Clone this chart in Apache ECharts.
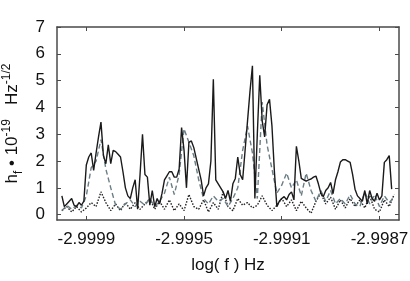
<!DOCTYPE html>
<html>
<head>
<meta charset="utf-8">
<script src="https://cdn.jsdelivr.net/npm/echarts@6/dist/echarts.min.js"></script>
<style>html,body{margin:0;padding:0;background:#fff;}#c{width:410px;height:281px;}</style>
</head>
<body>
<div id="c"></div>
<script>
// Frequency grid (log f, Hz) for the solid curve
const fineX = [
-3.00000,-2.99999,-2.99998,-2.99997,-2.99996,-2.99995,-2.99994,-2.99993,-2.99992,-2.99991,
-2.99990,-2.99989,-2.99988,-2.99987,-2.99986,-2.99985,-2.99984,-2.99983,-2.99982,-2.99981,
-2.99980,-2.99979,-2.99978,-2.99977,-2.99976,-2.99975,-2.99974,-2.99973,-2.99972,-2.99971,
-2.99970,-2.99969,-2.99968,-2.99967,-2.99966,-2.99965,-2.99964,-2.99963,-2.99962,-2.99961,
-2.99960,-2.99959,-2.99958,-2.99957,-2.99956,-2.99955,-2.99954,-2.99953,-2.99952,-2.99951,
-2.99950,-2.99949,-2.99948,-2.99947,-2.99946,-2.99945,-2.99944,-2.99943,-2.99942,-2.99941,
-2.99940,-2.99939,-2.99938,-2.99937,-2.99936,-2.99935,-2.99934,-2.99933,-2.99932,-2.99931,
-2.99930,-2.99929,-2.99928,-2.99927,-2.99926,-2.99925,-2.99924,-2.99923,-2.99922,-2.99921,
-2.99920,-2.99919,-2.99918,-2.99917,-2.99916,-2.99915,-2.99914,-2.99913,-2.99912,-2.99911,
-2.99910,-2.99909,-2.99908,-2.99907,-2.99906,-2.99905,-2.99904,-2.99903,-2.99902,-2.99901,
-2.99900,-2.99899,-2.99898,-2.99897,-2.99896,-2.99895,-2.99894,-2.99893,-2.99892,-2.99891,
-2.99890,-2.99889,-2.99888,-2.99887,-2.99886,-2.99885,-2.99884,-2.99883,-2.99882,-2.99881,
-2.99880,-2.99879,-2.99878,-2.99877,-2.99876,-2.99875,-2.99874,-2.99873,-2.99872,-2.99871,
-2.99870,-2.99869,-2.99868,-2.99867,-2.99866,-2.99865
];
// Solid curve values (h_f x 1e19)
const solidY = [
0.7,0.3,0.4,0.5,0.6,0.35,0.3,0.45,0.35,0.5,
1.85,2.15,2.3,1.65,2.3,2.9,3.45,2.2,1.9,2.6,
1.9,2.4,2.35,2.25,2.15,1.6,1.0,0.7,0.6,1.0,
1.3,0.2,1.5,3.0,1.5,1.4,0.35,0.9,0.3,0.6,
0.4,0.8,1.3,1.45,1.6,1.6,1.4,1.4,1.7,3.25,
2.4,1.0,2.7,2.75,2.5,2.1,1.7,1.3,0.7,1.0,
1.15,2.0,5.05,1.3,1.15,1.0,0.85,0.6,0.9,0.5,
1.15,1.35,2.15,1.5,1.3,2.4,3.5,4.6,5.55,0.6,
3.0,5.2,3.5,2.9,4.1,4.3,3.3,1.6,0.3,0.5,
0.6,0.67,0.55,0.75,0.85,0.55,2.55,2.0,1.35,1.3,
1.25,1.3,1.33,1.4,1.44,1.15,0.8,0.67,0.9,1.0,
1.2,0.78,1.3,1.6,1.96,2.05,2.05,2.0,1.95,1.5,
0.95,0.7,0.6,0.5,0.9,0.4,0.9,0.6,0.5,0.8,
0.55,0.7,1.95,2.05,2.2,0.95
];
// Frequency grid for dashed and dotted curves
const coarseX = [
-3.00000,-2.99998,-2.99996,-2.99994,-2.99992,-2.99990,-2.99988,-2.99986,-2.99984,-2.99982,
-2.99980,-2.99978,-2.99976,-2.99974,-2.99972,-2.99970,-2.99968,-2.99966,-2.99964,-2.99962,
-2.99960,-2.99958,-2.99956,-2.99954,-2.99952,-2.99950,-2.99948,-2.99946,-2.99944,-2.99942,
-2.99940,-2.99938,-2.99936,-2.99934,-2.99932,-2.99930,-2.99928,-2.99926,-2.99924,-2.99922,
-2.99920,-2.99918,-2.99916,-2.99914,-2.99912,-2.99910,-2.99908,-2.99906,-2.99904,-2.99902,
-2.99900,-2.99898,-2.99896,-2.99894,-2.99892,-2.99890,-2.99888,-2.99886,-2.99884,-2.99882,
-2.99880,-2.99878,-2.99876,-2.99874,-2.99872,-2.99870,-2.99868,-2.99866,-2.99864
];
const dashedY = [
0.15,0.35,0.2,0.35,0.25,0.7,1.75,2.0,2.8,1.7,
1.0,0.35,0.2,0.4,0.55,0.3,0.5,0.35,0.6,0.3,
0.5,0.8,1.4,0.75,1.5,3.2,2.7,2.2,1.3,0.6,
0.4,0.7,0.5,0.6,0.3,0.6,1.0,2.4,3.3,2.3,
0.6,4.2,2.6,1.7,0.8,1.1,1.55,1.0,1.3,0.7,
1.55,0.9,0.5,0.9,0.5,0.9,0.4,0.6,0.4,0.75,
0.4,0.3,0.85,0.4,0.75,0.3,0.7,0.45,0.65
];
const dottedY = [
0.15,0.3,0.1,0.3,0.1,0.25,0.45,0.3,0.85,0.45,
0.15,0.4,0.15,0.45,0.2,0.45,0.2,0.4,0.6,0.2,
0.5,0.2,0.55,0.15,0.4,0.15,0.75,0.3,0.2,0.55,
0.1,0.45,0.2,0.85,0.3,0.15,0.6,0.35,0.45,0.25,
0.35,0.7,0.35,0.15,0.35,0.6,0.3,0.55,0.15,0.5,
0.25,0.05,0.5,0.8,0.4,0.65,0.2,0.55,0.25,0.6,
0.3,0.55,0.25,0.7,0.2,0.1,0.55,0.3,0.75
];
const xTickValues = [-2.9999, -2.9995, -2.9991, -2.9987];
const xTickLabels = ['-2.9999', '-2.9995', '-2.9991', '-2.9987'];
const yTickValues = [0, 1, 2, 3, 4, 5, 6, 7];
const yTickLabels = ['0', '1', '2', '3', '4', '5', '6', '7'];

const FONT = '"Liberation Sans", Arial, Helvetica, sans-serif';
const frame = { show: true, onZero: false, lineStyle: { color: '#4a4a4a', width: 1.5 } };

function pair(xs, ys) { return xs.map((x, i) => [x, ys[i]]); }
function xFmt(v) {
  let best = 0;
  for (let i = 1; i < xTickValues.length; i++) if (Math.abs(xTickValues[i] - v) < Math.abs(xTickValues[best] - v)) best = i;
  return xTickLabels[best];
}
function yFmt(v) {
  let best = 0;
  for (let i = 1; i < yTickValues.length; i++) if (Math.abs(yTickValues[i] - v) < Math.abs(yTickValues[best] - v)) best = i;
  return yTickLabels[best];
}

const chart = echarts.init(document.getElementById('c'), null, { renderer: 'canvas' });
chart.setOption({
  animation: false,
  backgroundColor: '#fff',
  grid: { left: 57, right: 11, top: 27, bottom: 61, containLabel: false, outerBoundsMode: 'none' },
  xAxis: [{
    type: 'value', min: -3.00002, max: -2.99862, position: 'bottom',
    axisLine: frame,
    axisTick: { show: true, inside: true, length: 4, customValues: xTickValues, lineStyle: { color: '#4a4a4a', width: 1 } },
    axisLabel: { customValues: xTickValues, formatter: xFmt, margin: 11, fontSize: 17, color: '#111', fontFamily: FONT },
    splitLine: { show: false },
    name: 'log( f ) Hz', nameLocation: 'middle', nameGap: 37,
    nameTextStyle: { fontSize: 17, color: '#111', fontFamily: FONT }
  }, {
    type: 'value', min: -3.00002, max: -2.99862, position: 'top',
    axisLine: frame,
    axisTick: { show: true, inside: true, length: 4, customValues: xTickValues, lineStyle: { color: '#4a4a4a', width: 1 } },
    axisLabel: { show: false },
    splitLine: { show: false }
  }],
  yAxis: [{
    type: 'value', min: -0.2, max: 7, position: 'left',
    axisLine: frame,
    axisTick: { show: true, inside: true, length: 4, customValues: yTickValues, lineStyle: { color: '#4a4a4a', width: 1 } },
    axisLabel: { customValues: yTickValues, formatter: yFmt, margin: 12, fontSize: 17, color: '#111', fontFamily: FONT },
    splitLine: { show: false },
    name: '{a|h}{sub|f}{a| • 10}{sup|-19}{a|   Hz}{sup|-1/2}',
    nameLocation: 'middle', nameGap: 27, nameRotate: 90,
    nameTextStyle: {
      fontFamily: FONT, color: '#111', fontSize: 17,
      rich: {
        a: { fontSize: 17, fontFamily: FONT, color: '#111', lineHeight: 24, verticalAlign: 'middle' },
        sub: { fontSize: 12, fontFamily: FONT, color: '#111', lineHeight: 24, verticalAlign: 'bottom' },
        sup: { fontSize: 12, fontFamily: FONT, color: '#111', lineHeight: 24, verticalAlign: 'top' }
      }
    }
  }, {
    type: 'value', min: -0.2, max: 7, position: 'right',
    axisLine: frame,
    axisTick: { show: true, inside: true, length: 4, customValues: yTickValues, lineStyle: { color: '#4a4a4a', width: 1 } },
    axisLabel: { show: false },
    splitLine: { show: false }
  }],
  series: [{
    type: 'line', xAxisIndex: 0, yAxisIndex: 0, data: pair(coarseX, dottedY),
    showSymbol: false, symbol: 'none',
    lineStyle: { color: '#222', width: 1.4, type: [1.5, 1.5] }, z: 2
  }, {
    type: 'line', xAxisIndex: 0, yAxisIndex: 0, data: pair(coarseX, dashedY),
    showSymbol: false, symbol: 'none',
    lineStyle: { color: '#6b7d85', width: 1.4, type: [5, 3] }, z: 3
  }, {
    type: 'line', xAxisIndex: 0, yAxisIndex: 0, data: pair(fineX, solidY),
    showSymbol: false, symbol: 'none',
    lineStyle: { color: '#1a1a1a', width: 1.4 }, z: 4
  }]
});
</script>
</body>
</html>
